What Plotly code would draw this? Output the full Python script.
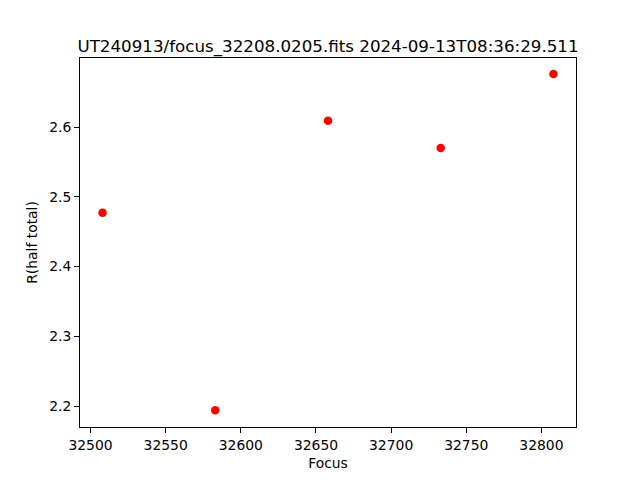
import plotly.graph_objects as go

focus = [32508, 32583, 32658, 32733, 32808]
r_half = [2.477, 2.194, 2.609, 2.570, 2.676]
x_ticks = [32500, 32550, 32600, 32650, 32700, 32750, 32800]
y_ticks = [2.2, 2.3, 2.4, 2.5, 2.6]
title = "UT240913/focus_32208.0205.fits 2024-09-13T08:36:29.511"

fig = go.Figure()
fig.add_trace(go.Scatter(x=focus, y=r_half, mode="markers",
                         marker=dict(color="red", size=8.5, line=dict(width=0)),
                         showlegend=False))

axis_common = dict(showgrid=False, zeroline=False, showline=True, linecolor="black",
                   linewidth=1, mirror=True, ticks="outside", ticklen=5, tickwidth=1,
                   tickcolor="black", tickfont=dict(size=13.9, color="black"),
                   automargin=False)

fig.update_layout(
    width=640, height=480,
    margin=dict(l=80, r=64, t=58, b=53, pad=0, autoexpand=False),
    paper_bgcolor="white", plot_bgcolor="white",
    font=dict(family="DejaVu Sans", color="black"),
    title=dict(text=title, x=0.5, xref="paper", xanchor="center",
               y=1, yref="paper", yanchor="bottom", pad=dict(b=6),
               automargin=False,
               font=dict(size=16.7, color="black")),
    xaxis=dict(range=[32493, 32823], tickvals=x_ticks,
               ticktext=[str(v) for v in x_ticks],
               title=dict(text="Focus", font=dict(size=13.9), standoff=6), **axis_common),
    yaxis=dict(range=[2.170, 2.699], tickvals=y_ticks,
               ticktext=[f"{v:.1f}" for v in y_ticks],
               title=dict(text="R(half total)", font=dict(size=13.9), standoff=8), **axis_common),
)

fig.write_html("out.html", config={"displayModeBar": False},
               post_script="document.body.style.margin='0';document.body.style.padding='0';")
